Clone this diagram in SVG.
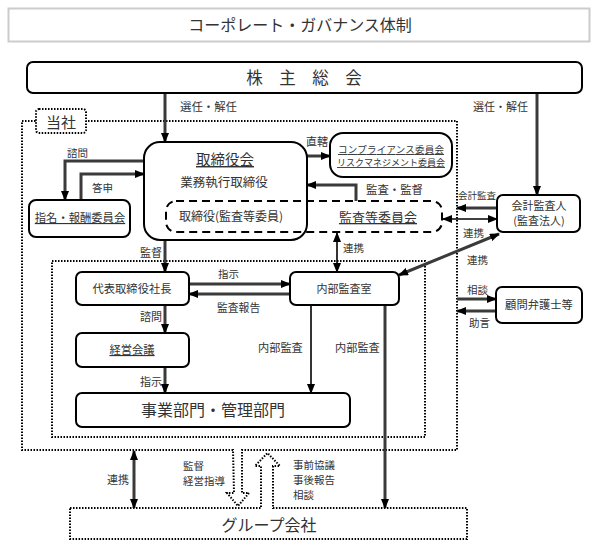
<svg xmlns="http://www.w3.org/2000/svg" width="600" height="548" viewBox="0 0 600 548">
<defs>
<marker id="ah" markerUnits="userSpaceOnUse" markerWidth="10" markerHeight="8" refX="9" refY="4" orient="auto-start-reverse"><path d="M0,0 L10,4 L0,8 z" fill="#000"/></marker>
</defs>
<style>
text{font-family:"Noto Sans CJK JP","Noto Sans CJK SC",sans-serif;fill:#333}
.box{fill:#fff;stroke:#000;stroke-width:2}
.dot{fill:none;stroke:#000;stroke-width:2;stroke-dasharray:1.5 1.5}
.dash{fill:none;stroke:#000;stroke-width:2;stroke-dasharray:8 5}
.th{fill:none;stroke:#3a3a3a;stroke-width:3}
.tn{fill:none;stroke:#000;stroke-width:1.6}
.e{marker-end:url(#ah)}
.b{marker-start:url(#ah);marker-end:url(#ah)}
.u{text-decoration:underline}
.m{text-anchor:middle}
</style>
<rect width="600" height="548" fill="#fff"/>

<g id="title">
<rect x="8.5" y="8.5" width="581" height="33" fill="#fff" stroke="#ccc" stroke-width="2"/>
<text class="m" x="300" y="31" font-size="16">コーポレート・ガバナンス体制</text>
</g>

<g id="outer-company">
<path class="dot" d="M233,450 H22 V121 H457 V450 H242 V493 H249 L238,506 L227,493 H234 Z"/>
</g>
<g id="inner-exec">
<rect class="dot" x="52" y="261" width="373" height="176"/>
</g>

<g id="connectors">
<path class="th e" d="M165,94 V142"/>
<path class="th e" d="M537,94 V195"/>
<path class="th e" d="M144,161 H65 V200"/>
<path class="th e" d="M81,200 V174 H144"/>
<path class="th e" d="M307,156 H330"/>
<path class="th e" d="M356,201 V185 H307"/>
<path class="tn b" d="M337,233 V272" stroke-width="2"/>
<path class="th e" d="M497,208 H457"/>
<path class="tn b" d="M443,219 H497" stroke-width="2"/>
<path class="th b" d="M499,234 L399,275" stroke-width="2.5"/>
<path class="th e" d="M165,240 V272"/>
<path class="th e" d="M189,284 H290"/>
<path class="th e" d="M290,294 H189"/>
<path class="th e" d="M165,305 V333"/>
<path class="th e" d="M165,367 V393"/>
<path class="tn e" d="M311,305 V393"/>
<path class="th e" d="M385,305 V508" stroke-width="2.5"/>
<path class="th e" d="M457,299 H496"/>
<path class="th e" d="M496,311 H457"/>
<path class="th b" d="M134,451 V508" stroke-width="2.5"/>
</g>

<g id="shareholders">
<rect class="box" x="27" y="62" width="555" height="31" rx="6"/>
<text class="m" x="304" y="84" font-size="16.5">株　主　総　会</text>
</g>

<g id="tosha-label">
<rect x="36" y="109" width="50" height="24" rx="3" fill="#fff" stroke="#000" stroke-width="2" stroke-dasharray="1.5 1.5"/>
<text class="m" x="61" y="128" font-size="15">当社</text>
</g>

<g id="board">
<rect class="box" x="144" y="142" width="163" height="98" rx="16"/>
<text class="m u" x="225" y="165" font-size="14.5">取締役会</text>
<text class="m" x="224" y="187" font-size="12.5">業務執行取締役</text>
</g>

<g id="audit-committee">
<rect class="dash" x="166" y="201" width="276" height="31" rx="10"/>
<text class="m" x="231" y="221" font-size="12">取締役(監査等委員)</text>
<text class="m u" x="378" y="222" font-size="13">監査等委員会</text>
</g>

<g id="compliance">
<rect class="box" x="330" y="133" width="122" height="44" rx="13"/>
<text class="m u" x="391" y="153" font-size="9.5" textLength="106">コンプライアンス委員会</text>
<text class="m u" x="391" y="166" font-size="9" textLength="108">リスクマネジメント委員会</text>
</g>

<g id="accounting-auditor">
<rect class="box" x="497" y="195" width="83" height="37" rx="6"/>
<text class="m" x="539" y="210" font-size="11">会計監査人</text>
<text class="m" x="539" y="225" font-size="11">(監査法人)</text>
</g>

<g id="nomination">
<rect class="box" x="29" y="200" width="101" height="37" rx="7"/>
<text class="m u" x="80" y="222" font-size="11.3">指名・報酬委員会</text>
</g>

<g id="president">
<rect class="box" x="76" y="272" width="113" height="33" rx="6"/>
<text class="m" x="132" y="293" font-size="11.3">代表取締役社長</text>
</g>

<g id="internal-audit">
<rect class="box" x="290" y="272" width="109" height="33" rx="6"/>
<text class="m" x="344" y="293" font-size="11">内部監査室</text>
</g>

<g id="mgmt-meeting">
<rect class="box" x="76" y="333" width="113" height="34" rx="6"/>
<text class="m u" x="132" y="354" font-size="11.3">経営会議</text>
</g>

<g id="divisions">
<rect class="box" x="76" y="393" width="274" height="34" rx="6"/>
<text class="m" x="213" y="416" font-size="16">事業部門・管理部門</text>
</g>

<g id="lawyers">
<rect class="box" x="496" y="287" width="86" height="36" rx="6"/>
<text class="m" x="539" y="309" font-size="11.3">顧問弁護士等</text>
</g>

<g id="group">
<path class="dot" d="M70,508 H261 V466 H255 L267.5,453 L280,466 H273 V508 H467 V539 H70 Z"/>
<text class="m" x="269" y="531" font-size="16">グループ会社</text>
</g>

<g id="labels" font-size="11">
<text x="180" y="111" font-size="11.4">選任・解任</text>
<text x="473" y="111" font-size="11">選任・解任</text>
<text x="67" y="157" font-size="10.5">諮問</text>
<text x="92" y="192" font-size="10.5">答申</text>
<text x="306" y="146">直轄</text>
<text x="366" y="194" font-size="11.4">監査・監督</text>
<text x="343" y="252" font-size="10.5">連携</text>
<text x="458" y="198.5" font-size="9.5">会計監査</text>
<text x="463" y="237" font-size="10.5">連携</text>
<text x="467" y="264" font-size="10.5">連携</text>
<text x="140" y="257">監督</text>
<text x="218" y="278" font-size="10.5">指示</text>
<text x="217" y="312" font-size="10.8">監査報告</text>
<text x="140" y="321">諮問</text>
<text x="140" y="386">指示</text>
<text x="258" y="352" font-size="11.2">内部監査</text>
<text x="335" y="352" font-size="11.2">内部監査</text>
<text x="467" y="294" font-size="10.5">相談</text>
<text x="469" y="327" font-size="10.5">助言</text>
<text x="107" y="484">連携</text>
<text x="183" y="470" font-size="10.5">監督</text>
<text x="183" y="485" font-size="10.5">経営指導</text>
<text x="293" y="469" font-size="10.5">事前協議</text>
<text x="293" y="484" font-size="10.5">事後報告</text>
<text x="293" y="499" font-size="10.5">相談</text>
</g>
</svg>
